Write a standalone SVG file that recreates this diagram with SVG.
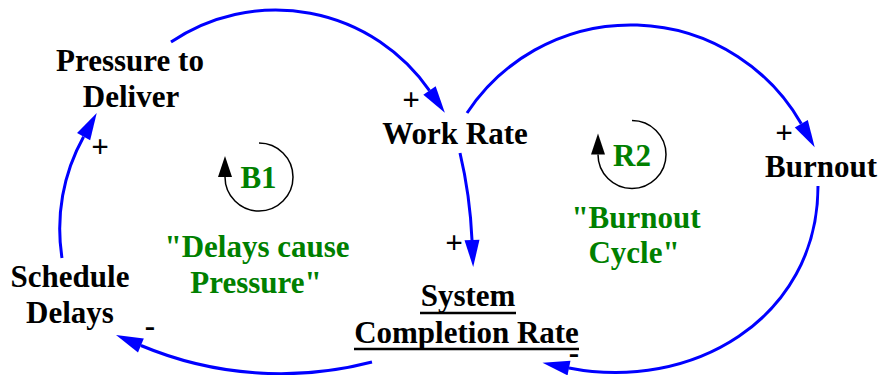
<svg xmlns="http://www.w3.org/2000/svg" width="881" height="375" viewBox="0 0 881 375">
  <style>
    .lbl { font-family: "Liberation Serif", "Times New Roman", serif; font-weight: bold; font-size: 31px; fill: #000000; text-anchor: middle; }
    .loop { font-family: "Liberation Serif", "Times New Roman", serif; font-weight: bold; font-size: 31px; fill: #008000; text-anchor: middle; }
    .sign { font-family: "Liberation Serif", "Times New Roman", serif; font-weight: bold; font-size: 31px; fill: #000000; text-anchor: middle; }
    .link { fill: none; stroke: #0000ff; stroke-width: 3; marker-end: url(#ab); }
    .cyc { fill: none; stroke: #000000; stroke-width: 1.5; marker-end: url(#ak); }
    .ul { stroke: #000000; stroke-width: 2.5; }
  </style>
  <defs>
    <marker id="ab" markerUnits="userSpaceOnUse" markerWidth="28" markerHeight="16" refX="0" refY="7.5" orient="auto" overflow="visible">
      <path d="M0,0 L27,7.5 L0,15 Z" fill="#0000ff"/>
    </marker>
    <marker id="ak" markerUnits="userSpaceOnUse" markerWidth="22" markerHeight="15" refX="0" refY="7" orient="auto" overflow="visible">
      <path d="M0,0 L21,7 L0,14 Z" fill="#000000"/>
    </marker>
  </defs>

  <g id="connectors">
    <path class="link" d="M171,42 A187,187 0 0 1 429.5,90.6"/>
    <path class="link" d="M467,113 A196.4,196.4 0 0 1 801.3,123.8"/>
    <path class="link" d="M460,153 Q470,195 472,240"/>
    <path class="link" d="M818,186 C818,320 690,392 569,368"/>
    <path class="link" d="M372,362 A361,361 0 0 1 140.9,345.5"/>
    <path class="link" d="M62,258 A189,189 0 0 1 83.6,136.7"/>
    <text class="sign" x="411" y="109.5">+</text>
    <text class="sign" x="784" y="143">+</text>
    <text class="sign" x="454" y="253">+</text>
    <text class="sign" x="100" y="157">+</text>
    <text class="sign" x="150" y="336">-</text>
    <text class="sign" x="574" y="363">-</text>
  </g>

  <g id="pressure">
    <text class="lbl" x="130" y="71">Pressure to</text>
    <text class="lbl" x="131" y="107">Deliver</text>
  </g>
  <g id="workrate">
    <text class="lbl" x="455" y="144">Work Rate</text>
  </g>
  <g id="burnout">
    <text class="lbl" x="821" y="177">Burnout</text>
  </g>
  <g id="schedule">
    <text class="lbl" x="70" y="287">Schedule</text>
    <text class="lbl" x="70" y="323">Delays</text>
  </g>
  <g id="completion">
    <text class="lbl" x="468" y="306">System</text>
    <text class="lbl" x="466.5" y="343">Completion Rate</text>
    <line class="ul" x1="420" y1="313" x2="516" y2="313"/>
    <line class="ul" x1="354" y1="349" x2="579" y2="349"/>
  </g>

  <g id="loopB1">
    <path class="cyc" d="M259,143 A34,34 0 1 1 225,177"/>
    <text class="loop" x="258.5" y="188">B1</text>
    <text class="loop" x="257" y="257">"Delays cause</text>
    <text class="loop" x="256" y="293">Pressure"</text>
  </g>
  <g id="loopR2">
    <path class="cyc" d="M632,120.5 A34,34 0 1 1 598,154.5"/>
    <text class="loop" x="632" y="166">R2</text>
    <text class="loop" x="636" y="228">"Burnout</text>
    <text class="loop" x="634" y="263">Cycle"</text>
  </g>
</svg>
